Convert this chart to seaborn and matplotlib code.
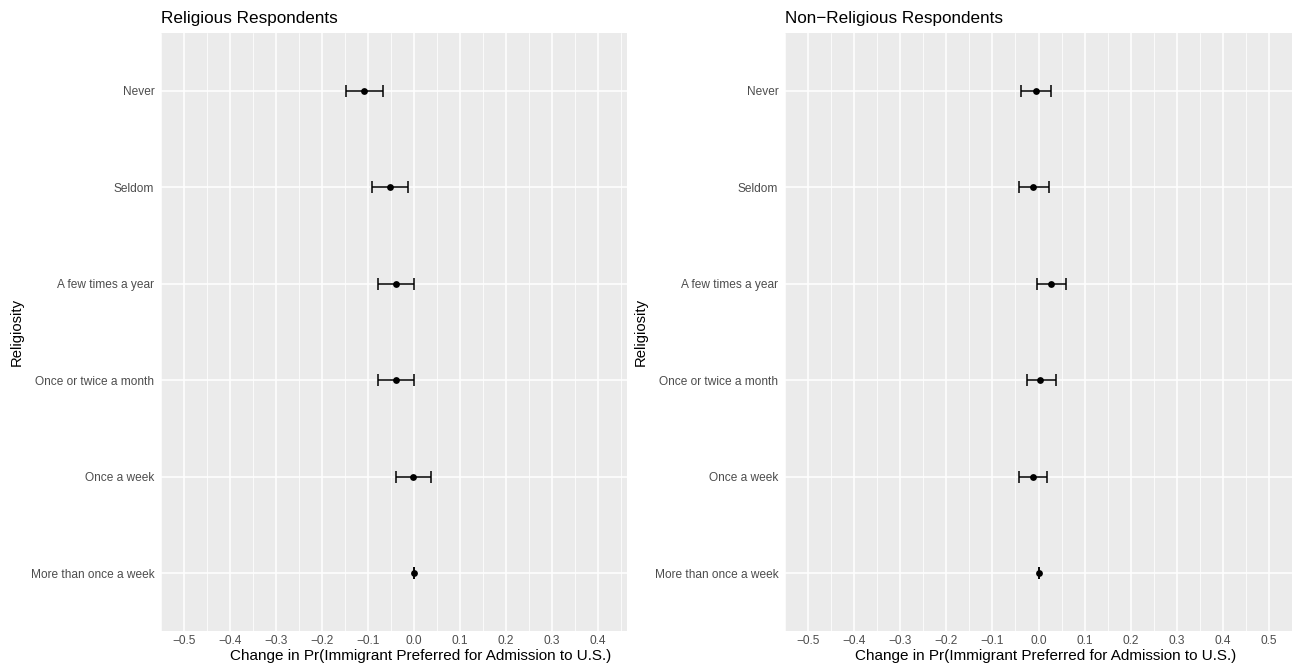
import numpy as np
import pandas as pd
import matplotlib
matplotlib.use("Agg")
import matplotlib.pyplot as plt
import seaborn as sns

# Attendance categories, top to bottom
categories = ["Never", "Seldom", "A few times a year", "Once or twice a month",
              "Once a week", "More than once a week"]

# Religious respondents: marginal effect and 95% interval
rel_est = [-0.108, -0.053, -0.040, -0.040, -0.002, 0.000]
rel_lo = [-0.148, -0.092, -0.078, -0.079, -0.040, 0.000]
rel_hi = [-0.068, -0.013, -0.001, -0.001, 0.036, 0.000]

# Non-religious respondents
non_est = [-0.006, -0.011, 0.027, 0.004, -0.013, 0.000]
non_lo = [-0.039, -0.043, -0.003, -0.026, -0.043, 0.000]
non_hi = [0.027, 0.022, 0.059, 0.037, 0.019, 0.000]

titles = ["Religious Respondents", "Non\u2212Religious Respondents"]
x_ticks_left = [-0.5, -0.4, -0.3, -0.2, -0.1, 0.0, 0.1, 0.2, 0.3, 0.4]
x_ticks_right = [-0.5, -0.4, -0.3, -0.2, -0.1, 0.0, 0.1, 0.2, 0.3, 0.4, 0.5]
x_label = "Change in Pr(Immigrant Preferred for Admission to U.S.)"
y_label = "Religiosity"

sns.set_theme(style="darkgrid")
plt.rcParams["font.family"] = ["Liberation Sans", "DejaVu Sans"]

W, H = 1294, 669
fig = plt.figure(figsize=(W / 100, H / 100), dpi=100)
boxes = [(161, 627), (785, 1292)]
ax_l = fig.add_axes([161 / W, (H - 631) / H, (627 - 161) / W, (631 - 33) / H])
ax_r = fig.add_axes([785 / W, (H - 631) / H, (1292 - 785) / W, (631 - 33) / H])

# (axes, estimates, lower, upper, ticks, title, data max, y-label px, x-label centre px)
panels = [
    (ax_l, rel_est, rel_lo, rel_hi, x_ticks_left, titles[0], 0.417, 24, 421),
    (ax_r, non_est, non_lo, non_hi, x_ticks_right, titles[1], 0.5, 648, 1046),
]

for (ax, est, lo, hi, xt, title, x_max, ylab_px, xlab_px), (x0, x1) in zip(panels, boxes):
    df = pd.DataFrame({"cat": categories, "pos": np.arange(1, len(categories) + 1),
                       "est": est, "lo": lo, "hi": hi})
    ax.set_facecolor("#EBEBEB")
    # horizontal interval bars with end caps
    ax.errorbar(df["est"], df["pos"],
                xerr=[df["est"] - df["lo"], df["hi"] - df["est"]],
                fmt="none", ecolor="black", elinewidth=1.1, capsize=4.0,
                capthick=1.1, zorder=3)
    sns.scatterplot(data=df, x="est", y="pos", ax=ax, color="black", s=24,
                    edgecolor="black", linewidth=0, zorder=4)

    lo_x = min(xt)
    pad = 0.05 * (x_max - lo_x)
    ax.set_xlim(lo_x - pad, x_max + pad)
    ax.set_ylim(len(categories) + 0.6, 0.4)

    ax.set_xticks(xt)
    ax.set_xticklabels([f"{v:.1f}".replace("-", "\u2212") for v in xt])
    minor = [v + 0.05 for v in xt[:-1]] + [xt[0] - 0.05, xt[-1] + 0.05]
    ax.set_xticks(minor, minor=True)
    ax.set_yticks(df["pos"])
    ax.set_yticklabels(categories)

    ax.grid(which="major", color="white", linewidth=1.1)
    ax.grid(which="minor", axis="x", color="white", linewidth=0.55)
    ax.set_axisbelow(True)
    for s in ax.spines.values():
        s.set_visible(False)

    ax.tick_params(axis="both", which="major", labelsize=8.6, labelcolor="#4D4D4D",
                   length=2.8, width=0.8, color="#333333", pad=2.0)
    ax.tick_params(axis="x", which="major", length=2.2, pad=0.6)
    ax.tick_params(axis="both", which="minor", length=0)
    ax.set_xlabel(x_label, fontsize=11.0, color="black", labelpad=0)
    ax.xaxis.set_label_coords((xlab_px - x0) / (x1 - x0), -0.030)
    ax.xaxis.label.set_va("top")
    ax.set_ylabel(y_label, fontsize=10.7, color="black")
    ax.yaxis.set_label_coords((ylab_px - x0) / (x1 - x0), 0.5)
    ax.set_title(title, fontsize=12.3, loc="left", pad=7, color="black")

fig.savefig("out.png", dpi=100, facecolor="white")
